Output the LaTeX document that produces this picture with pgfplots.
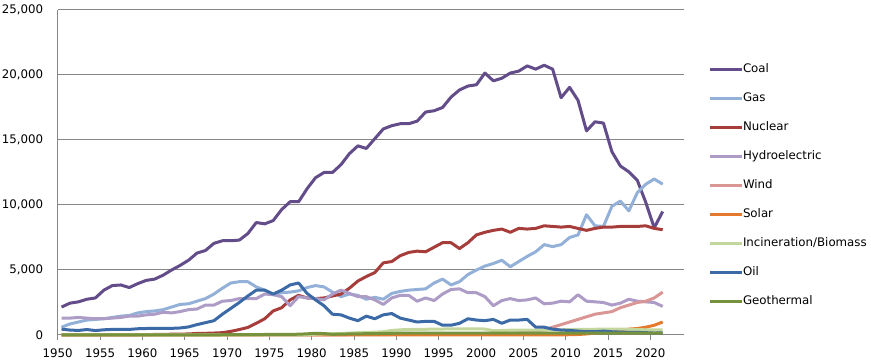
\documentclass[border=0pt]{standalone}
\usepackage{pgfplots}
\pgfplotsset{compat=1.18}
\usepackage{pgfplotstable}
\usepackage{fontspec}
\setmainfont{DejaVu Sans}
\definecolor{ccoal}{HTML}{634C8A}
\definecolor{cgas}{HTML}{93B1D8}
\definecolor{cnuc}{HTML}{A63D3A}
\definecolor{chyd}{HTML}{AD9CC6}
\definecolor{cwind}{HTML}{D99694}
\definecolor{csolar}{HTML}{E67A2C}
\definecolor{cbio}{HTML}{C3D69B}
\definecolor{coil}{HTML}{3B6AA6}
\definecolor{cgeo}{HTML}{76923C}
\definecolor{cgrid}{HTML}{868686}
\pgfplotstableread{
year coal gas nuclear hydro wind solar bio oil geo
1950 2150 600 0 1300 0 0 0 450 0
1951 2450 850 0 1300 0 0 0 380 0
1952 2550 1000 0 1350 0 0 0 350 0
1953 2750 1150 0 1300 0 0 0 420 0
1954 2850 1200 0 1250 0 0 0 340 0
1955 3450 1250 0 1250 0 0 0 400 0
1956 3800 1350 0 1300 0 0 0 430 0
1957 3850 1450 5 1350 0 0 0 430 0
1958 3650 1500 10 1450 0 0 0 430 0
1959 3950 1700 20 1450 0 0 0 480 0
1960 4200 1800 30 1550 0 0 0 500 5
1961 4300 1850 40 1600 0 0 0 500 5
1962 4600 1950 50 1750 0 0 0 500 5
1963 5000 2150 60 1700 0 0 0 510 10
1964 5350 2350 70 1800 0 0 0 540 10
1965 5750 2400 80 1950 0 0 0 620 10
1966 6300 2600 120 2000 0 0 0 800 10
1967 6500 2800 130 2300 0 0 0 950 10
1968 7050 3150 150 2300 0 0 0 1100 15
1969 7250 3600 180 2600 0 0 0 1600 20
1970 7250 4000 280 2650 0 0 0 2050 20
1971 7300 4100 420 2800 0 0 0 2500 25
1972 7800 4100 580 2800 0 0 0 3000 30
1973 8650 3700 900 2800 0 0 0 3450 30
1974 8550 3450 1250 3150 0 0 0 3450 40
1975 8800 3100 1850 3100 0 0 0 3150 40
1976 9650 3250 2100 2950 0 0 0 3450 40
1977 10250 3300 2700 2250 0 0 0 3850 50
1978 10250 3400 3050 2950 0 0 0 4000 60
1979 11250 3650 2850 2850 0 0 20 3200 90
1980 12100 3800 2800 2800 0 0 60 2700 130
1981 12500 3700 2850 2700 0 0 80 2250 110
1982 12500 3300 3000 3150 0 0 100 1600 50
1983 13100 2950 3150 3450 10 0 120 1550 70
1984 13950 3150 3600 3200 20 5 150 1300 80
1985 14550 3050 4150 2950 30 5 180 1100 90
1986 14350 2750 4500 2950 30 5 200 1450 100
1987 15100 2900 4800 2700 30 5 220 1250 110
1988 15850 2750 5550 2350 30 5 250 1550 120
1989 16100 3200 5650 2850 40 5 350 1650 130
1990 16250 3350 6100 3050 40 5 400 1300 140
1991 16250 3450 6350 3050 40 5 420 1150 140
1992 16450 3500 6450 2600 40 5 430 1000 140
1993 17150 3550 6400 2850 40 5 440 1050 140
1994 17250 4000 6750 2650 40 5 450 1050 140
1995 17500 4300 7100 3150 40 5 460 750 140
1996 18300 3850 7100 3500 40 5 470 750 140
1997 18850 4100 6650 3550 40 5 480 900 140
1998 19150 4650 7100 3250 40 5 480 1250 140
1999 19250 5000 7700 3250 60 5 470 1150 140
2000 20150 5300 7900 2950 70 5 460 1100 140
2001 19550 5500 8050 2250 80 5 330 1200 140
2002 19750 5750 8150 2650 120 5 350 900 140
2003 20150 5250 7900 2800 130 5 370 1150 140
2004 20300 5650 8200 2650 160 5 380 1150 140
2005 20700 6050 8150 2700 200 5 380 1200 140
2006 20450 6400 8200 2850 300 5 380 600 140
2007 20750 6950 8400 2400 400 5 380 600 140
2008 20450 6800 8350 2450 600 10 390 450 140
2009 18250 6950 8300 2600 800 15 400 380 140
2010 19050 7500 8350 2550 1000 20 420 350 150
2011 18050 7700 8200 3100 1200 40 430 300 150
2012 15700 9250 8050 2600 1400 80 430 250 150
2013 16400 8400 8200 2550 1600 150 440 250 150
2014 16300 8350 8300 2500 1700 200 460 300 150
2015 14100 9900 8300 2300 1800 250 460 250 150
2016 13000 10300 8350 2450 2100 350 450 220 150
2017 12550 9550 8350 2750 2300 450 440 200 150
2018 11900 10950 8350 2600 2500 500 420 200 150
2019 10200 11600 8400 2550 2600 600 400 180 150
2020 8250 12000 8200 2500 2850 750 390 150 150
2021 9500 11600 8100 2200 3300 1000 390 170 150
}\energy
\begin{document}
\begin{tikzpicture}
\useasboundingbox (0,0) rectangle (871pt,364pt);
\begin{axis}[
  at={(57.7pt,29pt)}, anchor=south west,
  width=626.6pt, height=325pt, scale only axis,
  xmin=1949.55, xmax=2023.55, ymin=0, ymax=25000,
  clip=false,
  axis x line*=bottom, axis y line*=left,
  axis line style={cgrid, line width=1pt},
  xtick={1949.55,1954.55,1959.55,1964.55,1969.55,1974.55,1979.55,1984.55,1989.55,1994.55,1999.55,2004.55,2009.55,2014.55,2019.55},
  xticklabels={1950,1955,1960,1965,1970,1975,1980,1985,1990,1995,2000,2005,2010,2015,2020},
  ytick={0,5000,10000,15000,20000,25000},
  scaled y ticks=false,
  /pgf/number format/assume math mode=true,
  /pgf/number format/1000 sep={,},
  tick align=outside,
  major tick length=4.7pt,
  xtick style={cgrid, line width=1pt},
  ytick style={draw=none},
  ymajorgrids=true,
  grid style={cgrid, line width=1pt},
  tick label style={font=\fontsize{11.8}{14}\selectfont, text=black},
  xticklabel style={anchor=north, inner sep=0pt, yshift=-8.6pt},
  yticklabel style={anchor=east, inner sep=0pt, xshift=-9.7pt},
  every axis plot/.append style={line width=3pt, line join=round},
  legend image code/.code={\draw[#1, line cap=butt] (0pt,0pt) -- (31.7pt,0pt);},
  legend cell align=left,
  legend style={at={(1.0383,0.4600)}, anchor=west, draw=none, fill=none,
    inner sep=0pt, outer sep=0pt, row sep=17.95pt, column sep=0pt,
    font=\fontsize{11.8}{14}\selectfont,
    nodes={inner sep=0pt, text height=8.6pt, text depth=2.4pt}},
]
\addplot[ccoal] table[x=year,y=coal]{\energy};
\addplot[cgas] table[x=year,y=gas]{\energy};
\addplot[cnuc] table[x=year,y=nuclear]{\energy};
\addplot[chyd] table[x=year,y=hydro]{\energy};
\addplot[cwind] table[x=year,y=wind]{\energy};
\addplot[csolar] table[x=year,y=solar]{\energy};
\addplot[cbio] table[x=year,y=bio]{\energy};
\addplot[coil] table[x=year,y=oil]{\energy};
\addplot[cgeo] table[x=year,y=geo]{\energy};
\legend{Coal,Gas,Nuclear,Hydroelectric,Wind,Solar,Incineration/Biomass,Oil,Geothermal}
\end{axis}
\end{tikzpicture}
\end{document}
